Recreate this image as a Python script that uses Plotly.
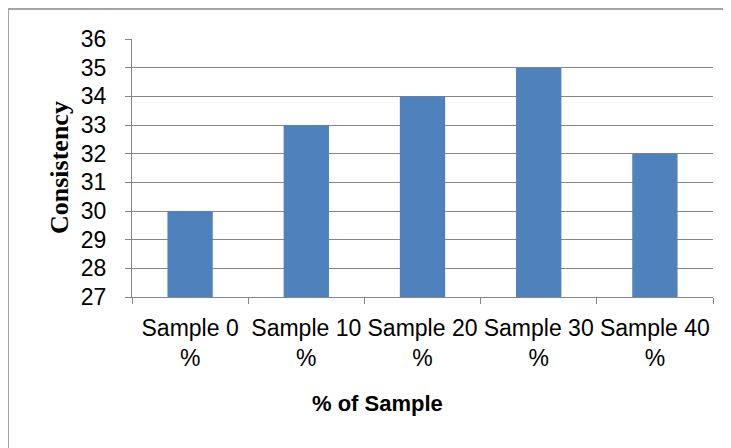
import plotly.graph_objects as go

categories = ["Sample 0<br>%", "Sample 10<br>%", "Sample 20<br>%", "Sample 30<br>%", "Sample 40<br>%"]
consistency = [30, 33, 34, 35, 32]
y_ticks = list(range(27, 37))

OFF = 8  # page body margin
W, H = 731 - OFF, 448 - OFF
L, R, T, B = 132 - OFF, 713 - OFF, 39 - OFF, 297 - OFF  # plot-area pixel edges (figure coords)

def px_x(px):
    return (px - OFF - L) / (R - L)

def px_y(py):
    return (B - (py - OFF)) / (B - T)

sans = "Liberation Sans, Arial, sans-serif"
grid_col = "#868686"

fig = go.Figure(go.Bar(
    x=categories, y=consistency,
    marker=dict(color="#4F81BD", line=dict(color="#4F81BD", width=0)),
    width=0.39,
))

fig.update_layout(
    width=W, height=H,
    margin=dict(l=L, r=W - R, t=T, b=H - B, autoexpand=False),
    paper_bgcolor="white", plot_bgcolor="white",
    showlegend=False,
    font=dict(family=sans, color="black"),
    xaxis=dict(
        type="category", tickson="boundaries", automargin=False,
        showgrid=False, showline=True, linecolor=grid_col, linewidth=1,
        ticks="outside", ticklen=6, tickcolor=grid_col, tickangle=0,
        tickfont=dict(family=sans, size=23, color="black"),
        ticklabelstandoff=10,
        range=[-0.5, 4.5],
    ),
    yaxis=dict(
        range=[27, 36], tickvals=y_ticks, automargin=False,
        showgrid=True, gridcolor=grid_col, gridwidth=1,
        showline=True, linecolor=grid_col, linewidth=1,
        ticks="outside", ticklen=6, tickcolor=grid_col,
        tickfont=dict(family=sans, size=23, color="black"),
        ticklabelstandoff=14,
        zeroline=False,
    ),
    shapes=[dict(type="rect", xref="paper", yref="paper",
                 x0=px_x(8), x1=px_x(745), y0=px_y(9), y1=px_y(470),
                 line=dict(color=grid_col, width=1.5), fillcolor="rgba(0,0,0,0)", layer="below")],
    annotations=[
        dict(text="<b>Consistency</b>", xref="paper", yref="paper",
             x=px_x(59), y=px_y(168), textangle=-90, showarrow=False,
             xanchor="center", yanchor="middle",
             font=dict(family="Liberation Serif, Times New Roman, serif", size=26, color="black")),
        dict(text="<b>% of Sample</b>", xref="paper", yref="paper",
             x=px_x(377), y=px_y(403), showarrow=False,
             xanchor="center", yanchor="middle",
             font=dict(family=sans, size=22, color="black")),
    ],
)

fig.write_html("out.html", config={"displayModeBar": False})
